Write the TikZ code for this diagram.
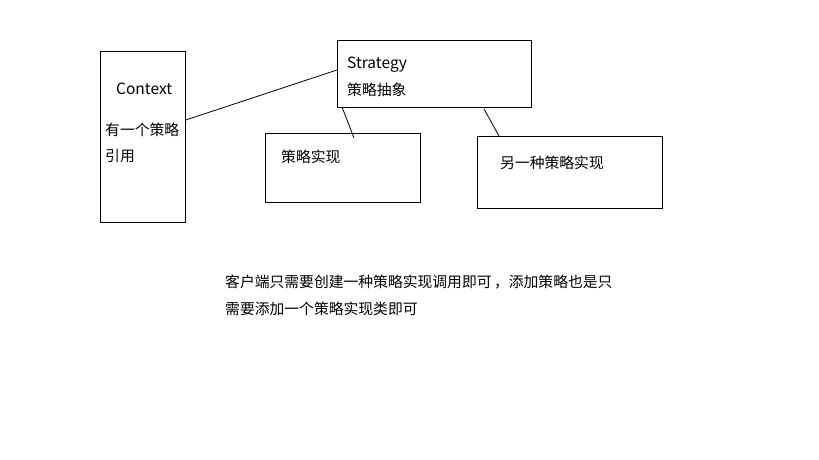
\documentclass[tikz,border=0pt]{standalone}
\usepackage{fontspec}
\setmainfont{Noto Sans CJK SC}
\newfontfamily\cjk{Noto Sans CJK SC}
\begin{document}
\begin{tikzpicture}[x=1bp,y=-1bp,
  box/.style={draw,line width=0.8bp,minimum width=#1,inner sep=0pt,anchor=north west},
  lbl/.style={anchor=west,inner sep=0pt,font=\cjk\fontsize{14.8bp}{17bp}\selectfont},
  latin/.style={lbl,font=\cjk\fontsize{15.5bp}{17bp}\selectfont},
  link/.style={line width=0.8bp}]
\useasboundingbox (0,0) rectangle (819,460);
% boxes
\node[box=85bp,minimum height=171bp] (ctx) at (100,51) {};
\node[box=194bp,minimum height=67bp] (strat) at (337,40) {};
\node[box=155bp,minimum height=69bp] (implA) at (265,133) {};
\node[box=185bp,minimum height=72bp] (implB) at (477,136) {};
% labels
\node[latin] (tctx) at (116,89) {Context};
\node[lbl] (tctx2) at (105,130) {有一个策略};
\node[lbl] (tctx3) at (105,156) {引用};
\node[latin] (tstr) at (347,65) {Strategy};
\node[lbl] (tstr2) at (347,90) {策略抽象};
\node[lbl] (tA) at (281,157) {策略实现};
\node[lbl] (tB) at (500,163) {另一种策略实现};
\node[lbl] (note1) at (225,282) {客户端只需要创建一种策略实现调用即可\,，添加策略也是只};
\node[lbl] (note2) at (225,309) {需要添加一个策略实现类即可};
% connectors
\coordinate (c1) at (ctx.north east |- 0,120);
\coordinate (s1) at (strat.north west |- 0,70);
\coordinate (s2) at (342,107);
\coordinate (a1) at (354,138);
\coordinate (s3) at (484,109);
\coordinate (b1) at (499,136);
\draw[link] (c1) -- (s1);
\draw[link] (s2) -- (a1);
\draw[link] (s3) -- (b1);
\end{tikzpicture}
\end{document}
